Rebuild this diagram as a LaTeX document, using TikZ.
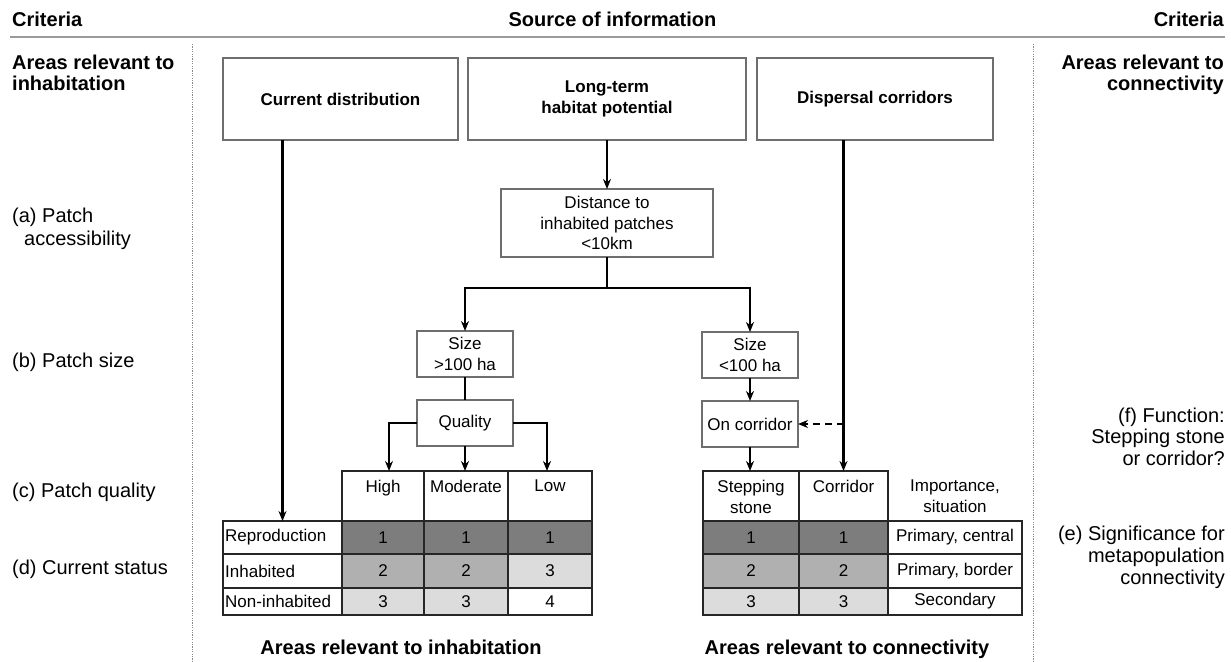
\documentclass[tikz,border=0pt]{standalone}
\usepackage{fontspec}
\setmainfont{Liberation Sans}
\usetikzlibrary{arrows.meta}
\definecolor{cdark}{HTML}{7D7D7D}
\definecolor{cmid}{HTML}{B0B0B0}
\definecolor{clight}{HTML}{DCDCDC}
\definecolor{boxline}{HTML}{6E6E6E}
\definecolor{hline}{HTML}{9A9A9A}
\definecolor{dotline}{HTML}{8A8A8A}
\begin{document}
\begin{tikzpicture}[x=1pt,y=-1pt,
  fbig/.style={inner sep=0pt, font=\fontsize{20}{22}\selectfont},
  fbigb/.style={inner sep=0pt, font=\bfseries\fontsize{20}{21}\selectfont},
  srcbox/.style={draw=boxline, line width=1.3pt, fill=white, inner sep=0pt, outer sep=0pt, align=center, font=\bfseries\fontsize{17}{21}\selectfont},
  stepbox/.style={draw=boxline, line width=1.3pt, inner sep=0pt, outer sep=0pt, align=center, font=\fontsize{17}{20.5}\selectfont},
  cell/.style={draw=black!85, line width=1.8pt, inner sep=0pt, outer sep=0pt, font=\fontsize{17}{20.5}\selectfont},
  hdlab/.style={anchor=north, inner sep=0pt, yshift=-9pt, align=center, font=\fontsize{17}{21}\selectfont},
  rowlab/.style={anchor=west, inner sep=0pt, xshift=2pt, font=\fontsize{17}{20.5}\selectfont},
  arr/.style={line width=2.2pt, -{Stealth[length=10pt,width=8pt]}},
  conn/.style={line width=2.2pt},
  dasharr/.style={line width=2.2pt, dash pattern=on 7pt off 5pt, -{Stealth[length=10pt,width=8pt]}},
  sepline/.style={dotline, line width=0.8pt, dash pattern=on 1.2pt off 1.2pt}
]
\useasboundingbox (0,0) rectangle (1231,661);

% header
\node[fbigb, anchor=base west] (critL) at (12,27) {Criteria};
\node[fbigb, anchor=base] (src) at (612.5,27) {Source of information};
\node[fbigb, anchor=base east] (critR) at (1224,27) {Criteria};
\draw[hline, line width=2.5pt] (10,37) -- (1225,37);

% separators
\draw[sepline] (192,44) -- (192,661);
\draw[sepline] (1033,44) -- (1033,661);

% left criteria
\node[fbigb, anchor=north west, align=left] (arL) at (12,54.5) {Areas relevant to\\inhabitation};
\node[fbig, anchor=north west, align=left, font=\fontsize{20}{23}\selectfont] (crA) at (12,207.5) {(a) Patch\\\hspace*{12pt}accessibility};
\node[fbig, anchor=base west] (crB) at (12,367) {(b) Patch size};
\node[fbig, anchor=base west] (crC) at (12,497) {(c) Patch quality};
\node[fbig, anchor=base west] (crD) at (12,574) {(d) Current status};

% right criteria
\node[fbigb, anchor=north east, align=right] (arR) at (1224,54.5) {Areas relevant to\\connectivity};
\node[fbig, anchor=north east, align=right, font=\fontsize{20}{21.5}\selectfont] (crF) at (1225,407.5) {(f) Function:\\Stepping stone\\or corridor?};
\node[fbig, anchor=north east, align=right] (crE) at (1225,525.5) {(e) Significance for\\metapopulation\\connectivity};

% source boxes
\node[srcbox, minimum width=235pt, minimum height=82pt] (cur) at (340.5,99) {Current distribution};
\node[srcbox, minimum width=278pt, minimum height=82pt] (lt) at (607,99) {Long-term\\habitat potential};
\node[srcbox, minimum width=236pt, minimum height=82pt] (disp) at (875,99) {Dispersal corridors};

% step boxes
\node[stepbox, minimum width=212pt, minimum height=68pt] (dist) at (607,223) {Distance to\\inhabited patches\\<10km};
\node[stepbox, minimum width=96pt, minimum height=46pt] (sbig) at (465,354) {Size\\>100 ha};
\node[stepbox, minimum width=96pt, minimum height=46pt] (qual) at (465,423) {Quality};
\node[stepbox, minimum width=96pt, minimum height=46pt] (ssmall) at (750,355) {Size\\<100 ha};
\node[stepbox, minimum width=96pt, minimum height=46pt] (oncor) at (750,424) {On corridor};

% left table
\node[cell, minimum width=82pt, minimum height=50pt, label={[hdlab]north:High}] (high) at (383,496) {};
\node[cell, minimum width=84pt, minimum height=50pt, label={[hdlab]north:Moderate}] (mod) at (466,496) {};
\node[cell, minimum width=84pt, minimum height=50pt, label={[hdlab]north:Low}] (low) at (550,496) {};

\node[cell, minimum width=119pt, minimum height=33pt, label={[rowlab]west:Reproduction}] (rep) at (282.5,537.5) {};
\node[cell, fill=cdark, minimum width=82pt, minimum height=33pt] (a11) at (383,537.5) {1};
\node[cell, fill=cdark, minimum width=84pt, minimum height=33pt] (a12) at (466,537.5) {1};
\node[cell, fill=cdark, minimum width=84pt, minimum height=33pt] (a13) at (550,537.5) {1};

\node[cell, minimum width=119pt, minimum height=34pt, label={[rowlab]west:Inhabited}] (inh) at (282.5,571) {};
\node[cell, fill=cmid, minimum width=82pt, minimum height=34pt] (a21) at (383,571) {2};
\node[cell, fill=cmid, minimum width=84pt, minimum height=34pt] (a22) at (466,571) {2};
\node[cell, fill=clight, minimum width=84pt, minimum height=34pt] (a23) at (550,571) {3};

\node[cell, minimum width=119pt, minimum height=27pt, label={[rowlab]west:Non-inhabited}] (noninh) at (282.5,601.5) {};
\node[cell, fill=clight, minimum width=82pt, minimum height=27pt] (a31) at (383,601.5) {3};
\node[cell, fill=clight, minimum width=84pt, minimum height=27pt] (a32) at (466,601.5) {3};
\node[cell, minimum width=84pt, minimum height=27pt] (a33) at (550,601.5) {4};

% right table
\node[cell, minimum width=96pt, minimum height=50pt, label={[hdlab]north:{Stepping\\stone}}] (ss) at (751,496) {};
\node[cell, minimum width=89pt, minimum height=50pt, label={[hdlab]north:Corridor}] (corr) at (843.5,496) {};
\node[cell, draw=none, minimum width=134pt, minimum height=50pt, label={[hdlab]north:{Importance,\\situation}}] (imp) at (955,496) {};

\node[cell, fill=cdark, minimum width=96pt, minimum height=33pt] (b11) at (751,537.5) {1};
\node[cell, fill=cdark, minimum width=89pt, minimum height=33pt] (b12) at (843.5,537.5) {1};
\node[cell, minimum width=134pt, minimum height=33pt] (b13) at (955,537.5) {Primary, central};

\node[cell, fill=cmid, minimum width=96pt, minimum height=34pt] (b21) at (751,571) {2};
\node[cell, fill=cmid, minimum width=89pt, minimum height=34pt] (b22) at (843.5,571) {2};
\node[cell, minimum width=134pt, minimum height=34pt] (b23) at (955,571) {Primary, border};

\node[cell, fill=clight, minimum width=96pt, minimum height=27pt] (b31) at (751,601.5) {3};
\node[cell, fill=clight, minimum width=89pt, minimum height=27pt] (b32) at (843.5,601.5) {3};
\node[cell, minimum width=134pt, minimum height=27pt] (b33) at (955,601.5) {Secondary};

% connectors
\draw[arr] (cur.south -| rep.north) -- (rep.north);
\draw[arr] (lt.south) -- (dist.north);
\coordinate (split) at (607,288);
\draw[conn] (dist.south) -- (split);
\draw[arr] (split) -| (sbig.north);
\draw[arr] (split) -| (ssmall.north);
\draw[conn] (sbig.south) -- (qual.north);
\draw[arr] (qual.west) -| ([xshift=6pt]high.north);
\draw[arr] (qual.south) -- (qual.south |- mod.north);
\draw[arr] (qual.east) -| ([xshift=-3pt]low.north);
\draw[arr] (ssmall.south) -- (oncor.north);
\draw[arr] (oncor.south) -- (oncor.south |- ss.north);
\draw[arr] (disp.south -| corr.north) -- (corr.north);
\draw[dasharr] (oncor.east -| corr.north) -- (oncor.east);

% bottom titles
\node[fbigb, anchor=base] (botL) at (401,654) {Areas relevant to inhabitation};
\node[fbigb, anchor=base] (botR) at (847,654) {Areas relevant to connectivity};
\end{tikzpicture}
\end{document}
